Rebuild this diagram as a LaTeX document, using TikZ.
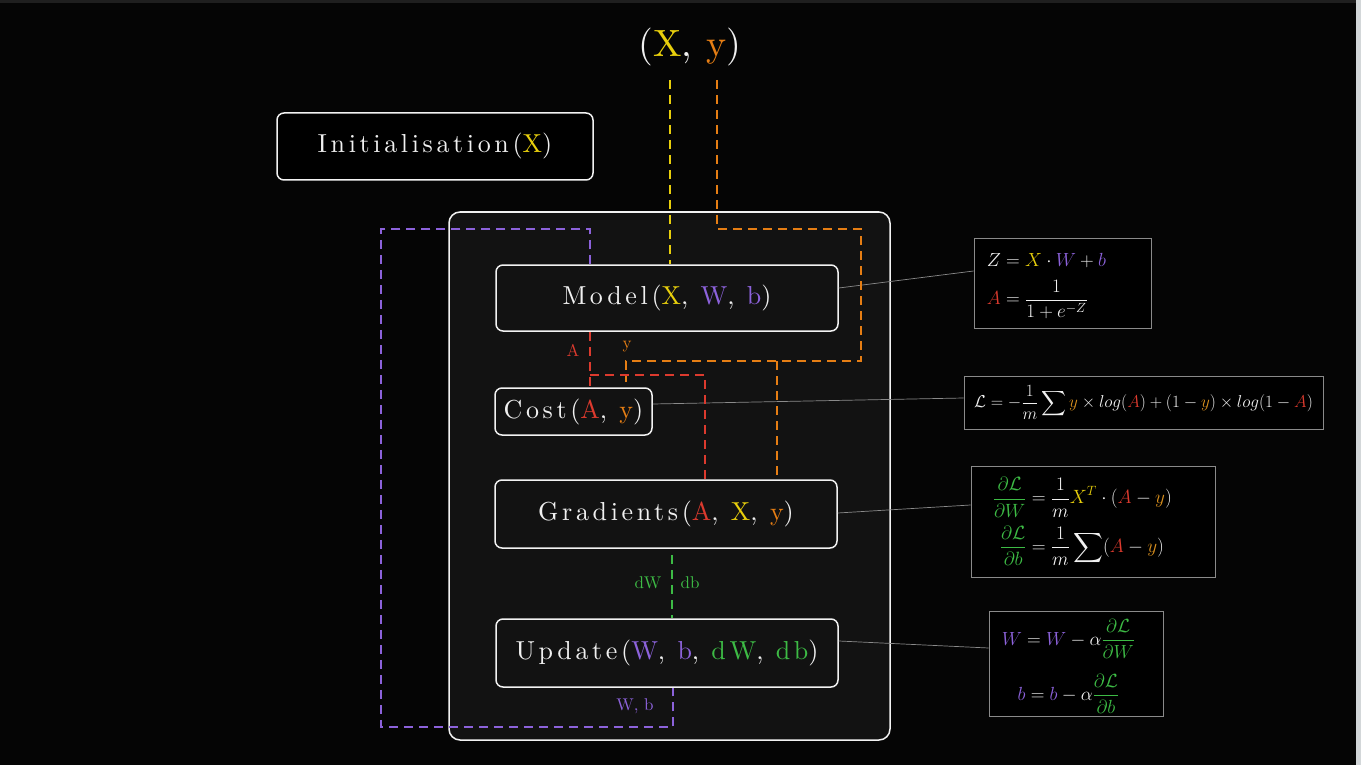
\RequirePackage{fix-cm}
\documentclass[tikz,border=0pt]{standalone}
\usepackage{amsmath}
\usepackage{fontspec}
\newfontfamily\lmfont{lmroman10-regular.otf}[LetterSpace=14]
\newfontfamily\titlefont{lmroman10-regular.otf}[LetterSpace=4]
\newfontfamily\lblfont{lmroman10-regular.otf}
\definecolor{cyel}{HTML}{E8CF0C}
\definecolor{cora}{HTML}{E67E14}
\definecolor{cyo}{HTML}{D9901E}
\definecolor{cred}{HTML}{DC3A2E}
\definecolor{cpur}{HTML}{8C62DB}
\definecolor{cgrn}{HTML}{3DBB45}
\definecolor{panelc}{HTML}{121212}
\definecolor{bgc}{HTML}{050505}
\definecolor{txt}{HTML}{F0F0F0}
\definecolor{edgec}{HTML}{F2F2F2}
\definecolor{fgray}{HTML}{8A8A8A}
\newcommand{\bx}{\lmfont\fontsize{26}{30}\selectfont}
\newcommand{\Y}[1]{\textcolor{cyel}{#1}}
\newcommand{\Or}[1]{\textcolor{cora}{#1}}
\newcommand{\R}[1]{\textcolor{cred}{#1}}
\newcommand{\Pu}[1]{\textcolor{cpur}{#1}}
\newcommand{\G}[1]{\textcolor{cgrn}{#1}}
\begin{document}
\begin{tikzpicture}[x=1pt,y=-1pt,
  fnbox/.style={draw=edgec, line width=1.5pt, rounded corners=7pt, fill=panelc, text=txt, inner sep=0pt, align=center},
  eqbox/.style={draw=fgray, line width=0.8pt, fill=black, text=txt, inner sep=0pt},
  eqtxt/.style={text=txt, inner sep=0pt, anchor=west},
  dsh/.style={dash pattern=on 9pt off 6pt, line width=1.6pt},
  lnk/.style={draw=fgray, line width=0.7pt},
  lbl/.style={font=\lblfont\fontsize{17}{19}\selectfont, inner sep=1pt}]
\fill[bgc] (0,0) rectangle (1361,765);
\useasboundingbox (0,0) rectangle (1361,765);
\fill[black!88!white] (0,0) rectangle (1361,3);
\fill[black!85!cyan!20!white] (1356,0) rectangle (1361,765);

% panel
\node[fnbox, minimum width=441pt, minimum height=528pt, rounded corners=11pt] (panel) at (669.5,476) {};

% title
\node[text=txt, font=\titlefont\fontsize{38}{42}\selectfont] (title) at (690,47) {(\Y{X}, \Or{y})};

% function boxes
\node[fnbox, fill=black, minimum width=316pt, minimum height=67pt] (init) at (435,146.5) {\bx Initialisation(\Y{X})};
\node[fnbox, minimum width=342pt, minimum height=66pt] (model) at (667,298) {\bx Model(\Y{X}, \Pu{W}, \Pu{b})};
\node[fnbox, minimum width=157pt, minimum height=47pt] (cost) at (573.5,411.5) {\bx Cost(\R{A}, \Or{y})};
\node[fnbox, minimum width=342pt, minimum height=68pt] (grad) at (666,514) {\bx Gradients(\R{A}, \Y{X}, \Or{y})};
\node[fnbox, minimum width=342pt, minimum height=68pt] (upd) at (667,653) {\bx Update(\Pu{W}, \Pu{b}, \G{dW}, \G{db})};

% formula boxes
\node[eqbox, minimum width=177pt, minimum height=90pt] (f1) at (1062.5,283) {};
\node[eqtxt, xshift=13pt, yshift=-2pt] (f1t) at (f1.west) {\fontsize{19}{22}\selectfont
$\displaystyle\begin{aligned} Z &= {\color{cyel}X}\cdot{\color{cpur}W}+{\color{cpur}b}\\[3pt] {\color{cred}A} &= \frac{1}{1+e^{-Z}}\end{aligned}$};
\node[eqbox, minimum width=359pt, minimum height=53pt] (f2) at (1143.5,402.5) {\fontsize{17.2}{20}\selectfont
$\displaystyle \mathcal{L} = -\frac{1}{m}\sum {\color{cyo}y}\times log({\color{cred}A}) + (1-{\color{cyo}y})\times log(1-{\color{cred}A})$};
\node[eqbox, minimum width=244pt, minimum height=111pt] (f3) at (1093,521.5) {};
\node[eqtxt, xshift=22pt] (f3t) at (f3.west) {\fontsize{19.2}{22}\selectfont
$\displaystyle\begin{aligned} {\color{cgrn}\frac{\partial\mathcal{L}}{\partial W}} &= \frac{1}{m}{\color{cyel}X^T}\cdot({\color{cred}A}-{\color{cyo}y})\\[5pt] {\color{cgrn}\frac{\partial\mathcal{L}}{\partial b}} &= \frac{1}{m}\sum({\color{cred}A}-{\color{cyo}y})\end{aligned}$};
\node[eqbox, minimum width=174pt, minimum height=105pt] (f4) at (1076,663.5) {};
\node[eqtxt, xshift=13pt, yshift=-3pt] (f4t) at (f4.west) {\fontsize{19}{22}\selectfont
$\displaystyle\begin{gathered} {\color{cpur}W} = {\color{cpur}W} - \alpha{\color{cgrn}\frac{\partial\mathcal{L}}{\partial W}}\\[12pt] {\color{cpur}b} = {\color{cpur}b} - \alpha{\color{cgrn}\frac{\partial\mathcal{L}}{\partial b}}\end{gathered}$};

% links to formulas
\draw[lnk] ([yshift=10pt]model.east) -- ([yshift=12pt]f1.west);
\draw[lnk] ([yshift=7.5pt]cost.east) -- ([yshift=4.5pt]f2.west);
\draw[lnk] ([yshift=1pt]grad.east) -- ([yshift=16.5pt]f3.west);
\draw[lnk] ([yshift=12pt]upd.east) -- ([yshift=15.5pt]f4.west);

% coordinates for dashed routes
\coordinate (xt) at (670,80);
\coordinate (yt) at (717,80);
\coordinate (o1) at (717,229);
\coordinate (o2) at (861,229);
\coordinate (o3) at (861,361);
\coordinate (o4) at (626,361);
\coordinate (o5) at (626,382);
\coordinate (ob) at (777,361);
\coordinate (r1) at (590,375);
\coordinate (r2) at (705,375);
\coordinate (p1) at (590,229);
\coordinate (p2) at (381,229);
\coordinate (p3) at (381,727);
\coordinate (p4) at (673,727);
\coordinate (g1) at (672,555);
\coordinate (g2) at (672,618);

% yellow X
\draw[dsh, cyel] (xt) -- (xt |- model.north);
% orange y
\draw[dsh, cora] (yt) -- (o1) -- (o2) -- (o3) -- (o4) -- (o5);
\draw[dsh, cora] (ob) -- (ob |- grad.north);
% red A
\draw[dsh, cred] (r1 |- model.south) -- (r1 |- cost.north);
\draw[dsh, cred] (r1) -- (r2) -- (r2 |- grad.north);
% purple W,b
\draw[dsh, cpur] (p1 |- model.north) -- (p1) -- (p2) -- (p3) -- (p4) -- (p4 |- upd.south);
% green dW db
\draw[dsh, cgrn] (g1) -- (g2);

% labels
\node[lbl, text=cred] (lA) at (573,350) {A};
\node[lbl, text=cora] (ly) at (627,347) {y};
\node[lbl, text=cgrn] (ldw) at (648,583) {dW};
\node[lbl, text=cgrn] (ldb) at (690,583) {db};
\node[lbl, text=cpur] (lwb) at (635,706) {W, b};
\end{tikzpicture}
\end{document}
